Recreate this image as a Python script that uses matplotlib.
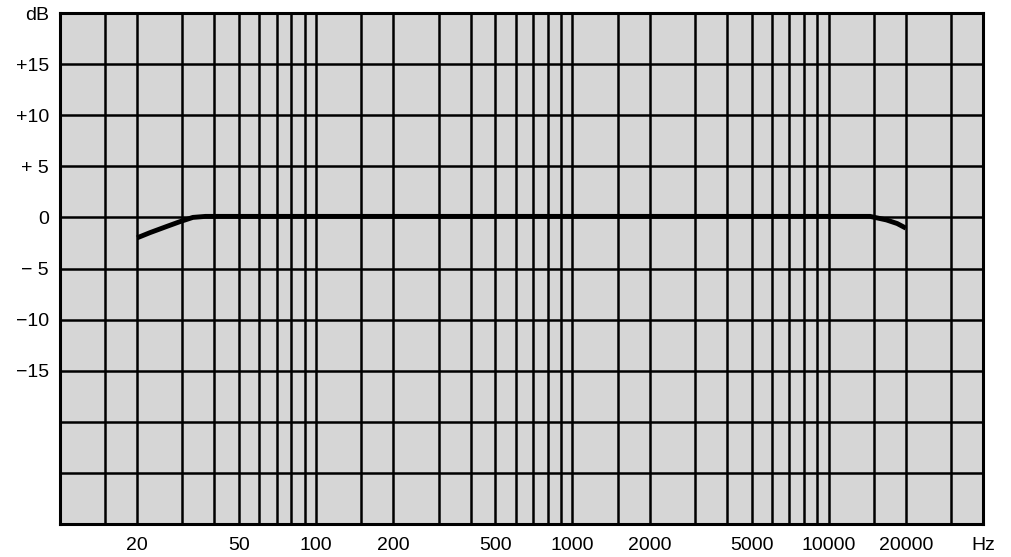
import matplotlib
matplotlib.use('Agg')
import matplotlib.pyplot as plt

# frequency response curve
freq = [20, 22.4, 26, 29.5, 33, 37, 50, 100, 1000, 10000, 14500, 16800, 18500, 20000]
level = [-2.0, -1.5, -0.9, -0.4, 0.0, 0.1, 0.1, 0.1, 0.1, 0.1, 0.1, -0.25, -0.6, -1.05]

# grid lines of the log paper: 1, 1.5, 2 ... 9 in every decade
mults = [1, 1.5, 2, 3, 4, 5, 6, 7, 8, 9]
decades = [10, 100, 1000, 10000]
x_ticks = [20, 50, 100, 200, 500, 1000, 2000, 5000, 10000, 20000, 40000]
x_labels = ['20', '50', '100', '200', '500', '1000', '2000', '5000', '10000', '20000', 'Hz']
y_ticks = [20, 15, 10, 5, 0, -5, -10, -15]
y_labels = ['dB', '+15', '+10', '+ 5', '0', '\u2212 5', '\u221210', '\u221215']
y_lines = list(range(-30, 21, 5))

plt.rcParams['font.family'] = ['Liberation Sans', 'DejaVu Sans']

fig = plt.figure(figsize=(10.11, 5.57), dpi=100)
ax = fig.add_axes([60 / 1011, 1 - 524 / 557, 923 / 1011, 511 / 557])
ax.set_facecolor('#d6d6d6')

ax.set_xscale('log')
ax.set_xlim(10, 40000)
ax.set_ylim(-30, 20)

for d in decades:
    for m in mults:
        f = d * m
        if 10 < f < 40000:
            ax.axvline(f, color='black', lw=1.8, zorder=1)
for yv in y_lines:
    if -30 < yv < 20:
        ax.axhline(yv, color='black', lw=1.8, zorder=1)

ax.plot(freq, level, color='black', lw=3.5, solid_capstyle='butt', zorder=3)

ax.minorticks_off()
ax.set_xticks(x_ticks)
ax.set_xticklabels(x_labels, fontsize=14)
ax.set_yticks(y_ticks)
ax.set_yticklabels(y_labels, fontsize=14)
ax.tick_params(axis='both', length=0)
ax.tick_params(axis='x', pad=9)
ax.tick_params(axis='y', pad=8)

for s in ax.spines.values():
    s.set_linewidth(2.2)
    s.set_zorder(4)

plt.savefig('out.png', dpi=100)
